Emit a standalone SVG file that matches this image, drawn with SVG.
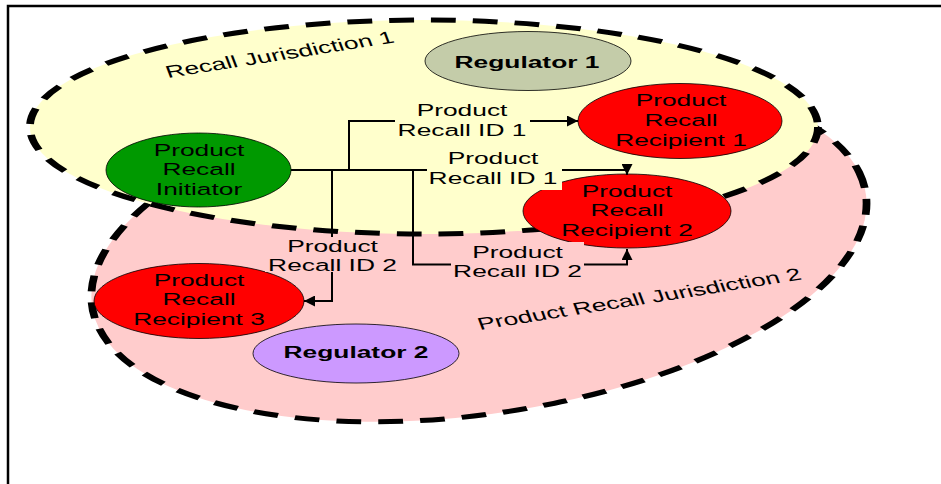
<svg xmlns="http://www.w3.org/2000/svg" width="941" height="484" viewBox="0 0 941 484">
  <defs>
    <marker id="arrow" viewBox="0 0 10 10" refX="10" refY="5" markerWidth="11" markerHeight="11" markerUnits="userSpaceOnUse" orient="auto">
      <path d="M0,0 L10,5 L0,10 z" fill="#000"/>
    </marker>
  </defs>
  <style>
    .zone { stroke: #000; stroke-width: 5; stroke-dasharray: 16 11; }
    .node { stroke: #000; stroke-width: 0.8; }
    .t { font-family: "Liberation Sans", Arial, sans-serif; font-size: 17px; fill: #000; text-anchor: middle; }
    .b { font-weight: bold; }
    .zl { text-anchor: start; }
    .wire { fill: none; stroke: #000; stroke-width: 2; marker-end: url(#arrow); }
    .lbl-y { fill: #FFFFCC; }
    .lbl-p { fill: #FFCCCC; }
  </style>

  <!-- frame -->
  <rect x="8" y="6" width="940" height="490" fill="#fff" stroke="#000" stroke-width="2.5"/>

  <!-- jurisdictions (drawn in a horizontally stretched frame) -->
  <g id="jurisdiction-2" transform="scale(1.55,1)">
    <ellipse class="zone" cx="309" cy="250" rx="257.3" ry="160.8" transform="rotate(-17.56 309 250)" fill="#FFCCCC"/>
  </g>
  <g id="jurisdiction-1" transform="scale(1.55,1)">
    <ellipse class="zone" cx="273.5" cy="127" rx="254.2" ry="107" fill="#FFFFCC"/>
  </g>
  <text class="t zl" transform="translate(168,78) scale(1.55,1) rotate(-13.7)">Recall Jurisdiction 1</text>
  <text class="t zl" transform="translate(480,330) scale(1.55,1) rotate(-13.7)">Product Recall Jurisdiction 2</text>

  <!-- nodes -->
  <g id="regulator-1">
    <ellipse class="node" cx="528" cy="61" rx="103" ry="29.5" fill="#C4CCA9"/>
    <text class="t b" transform="translate(527,67.5) scale(1.55,1)">Regulator 1</text>
  </g>
  <g id="initiator">
    <ellipse class="node" cx="198.5" cy="170" rx="92.5" ry="37" fill="#009900"/>
    <text class="t" transform="translate(199,155.5) scale(1.55,1)"><tspan x="0">Product</tspan><tspan x="0" dy="20">Recall</tspan><tspan x="0" dy="20">Initiator</tspan></text>
  </g>
  <g id="recipient-1">
    <ellipse class="node" cx="680" cy="121" rx="102" ry="37.5" fill="#FF0000"/>
    <text class="t" transform="translate(681,105.7) scale(1.55,1)"><tspan x="0">Product</tspan><tspan x="0" dy="20">Recall</tspan><tspan x="0" dy="20">Recipient 1</tspan></text>
  </g>
  <g id="recipient-2">
    <ellipse class="node" cx="627" cy="211" rx="104" ry="37" fill="#FF0000"/>
    <text class="t" transform="translate(627,196.5) scale(1.55,1)"><tspan x="0">Product</tspan><tspan x="0" dy="20">Recall</tspan><tspan x="0" dy="20">Recipient 2</tspan></text>
  </g>
  <g id="recipient-3">
    <ellipse class="node" cx="199" cy="301" rx="105" ry="37.5" fill="#FF0000"/>
    <text class="t" transform="translate(199,285.5) scale(1.55,1)"><tspan x="0">Product</tspan><tspan x="0" dy="20">Recall</tspan><tspan x="0" dy="20">Recipient 3</tspan></text>
  </g>
  <g id="regulator-2">
    <ellipse class="node" cx="356" cy="353.5" rx="103" ry="29.5" fill="#CC99FF"/>
    <text class="t b" transform="translate(356,358) scale(1.55,1)">Regulator 2</text>
  </g>

  <!-- connectors -->
  <g id="connectors">
    <path class="wire" d="M291,170 H349 V121 H578"/>
    <path class="wire" d="M291,170 H627 V175"/>
    <path class="wire" d="M291,170 H332 V301 H304"/>
    <path class="wire" d="M291,170 H413 V264.5 H627 V249"/>
  </g>

  <!-- connector labels -->
  <g id="label-id1-a">
    <rect class="lbl-y" x="395" y="100" width="135" height="40"/>
    <text class="t" transform="translate(462,116) scale(1.55,1)"><tspan x="0">Product</tspan><tspan x="0" dy="20">Recall ID 1</tspan></text>
  </g>
  <g id="label-id1-b">
    <rect class="lbl-y" x="427" y="147" width="135" height="43"/>
    <text class="t" transform="translate(493,164) scale(1.55,1)"><tspan x="0">Product</tspan><tspan x="0" dy="20">Recall ID 1</tspan></text>
  </g>
  <g id="label-id2-a">
    <rect class="lbl-p" x="265" y="237" width="135" height="35"/>
    <text class="t" transform="translate(332.5,251.7) scale(1.55,1)"><tspan x="0">Product</tspan><tspan x="0" dy="19">Recall ID 2</tspan></text>
  </g>
  <g id="label-id2-b">
    <rect class="lbl-p" x="451" y="242" width="133" height="40"/>
    <text class="t" transform="translate(517.5,258) scale(1.55,1)"><tspan x="0">Product</tspan><tspan x="0" dy="19.5">Recall ID 2</tspan></text>
  </g>
</svg>
